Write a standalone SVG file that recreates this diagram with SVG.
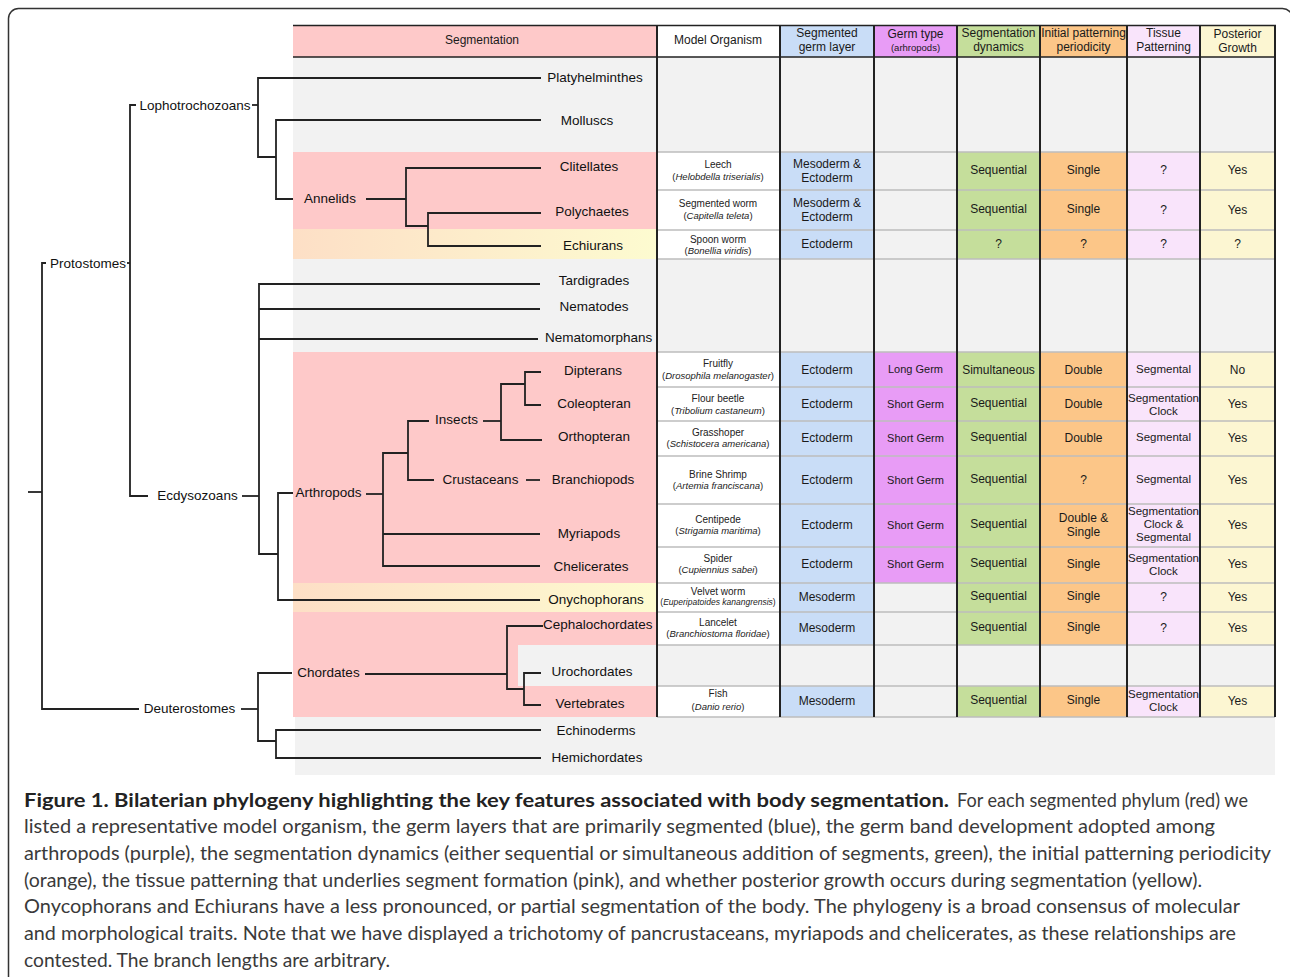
<svg xmlns="http://www.w3.org/2000/svg" width="1290" height="977" viewBox="0 0 1290 977">
<defs>
<linearGradient id="pe" x1="0" y1="0" x2="1" y2="0">
<stop offset="0" stop-color="#fddfc6"/>
<stop offset="1" stop-color="#fdfbd0"/>
</linearGradient>
<style>
.ln{fill:none;stroke:#222;stroke-width:1.8}
.lb{font-family:"Liberation Sans",Arial,sans-serif;font-size:13.5px;fill:#111;dominant-baseline:central}
.m{text-anchor:middle}
.ct{font-family:"Liberation Sans",Arial,sans-serif;font-size:12px;fill:#1a1a1a;text-anchor:middle;dominant-baseline:central}
.ts{font-size:11.5px}
.mo{font-family:"Liberation Sans",Arial,sans-serif;font-size:10px;fill:#222;text-anchor:middle;dominant-baseline:central}
.sp{font-size:9.5px}
.it{font-style:italic}
.hd{font-family:"Liberation Sans",Arial,sans-serif;font-size:12px;fill:#1a1a1a;text-anchor:middle;dominant-baseline:central}
.pk{fill:#fec9c9}.gr{fill:#f2f2f2}.wh{fill:#fff}.bl{fill:#c9ddf7}.pu{fill:#e89cf6}.gn{fill:#c5de9b}.or{fill:#fcc688}.lv{fill:#f9e4fb}.ye{fill:#fcf6d2}
.sep{stroke:#bdbdbd;stroke-width:1.5}
.vl{stroke:#222;stroke-width:2}
.cap{font-family:Lato,"Open Sans",sans-serif;font-size:19px;fill:#3a3a3a}
.capb{font-family:Lato,"Open Sans",sans-serif;font-size:19px;font-weight:bold;fill:#222}
</style>
</defs>
<rect x="0" y="0" width="1290" height="977" fill="#fff"/>
<rect x="8.5" y="8.5" width="1284" height="1000" rx="10" fill="none" stroke="#333" stroke-width="1.5"/>

<!-- backgrounds -->
<g id="backgrounds">
<rect class="gr" x="293" y="57" width="982" height="660"/>
<rect class="gr" x="295" y="717" width="980" height="58"/>
<rect class="pk" x="293" y="152" width="364" height="77"/>
<rect fill="url(#pe)" x="293" y="229" width="364" height="30"/>
<rect class="pk" x="293" y="352" width="364" height="231"/>
<rect fill="url(#pe)" x="293" y="583" width="364" height="29"/>
<rect class="pk" x="293" y="612" width="364" height="105"/>
<rect class="gr" x="518" y="645" width="139" height="41"/>
</g>

<!-- header -->
<g id="header">
<rect class="pk" x="293" y="25" width="364" height="32"/>
<rect class="wh" x="657" y="25" width="123" height="32"/>
<rect class="bl" x="780" y="25" width="94" height="32"/>
<rect class="pu" x="874" y="25" width="83" height="32"/>
<rect class="gn" x="957" y="25" width="83" height="32"/>
<rect class="or" x="1040" y="25" width="87" height="32"/>
<rect class="lv" x="1127" y="25" width="73" height="32"/>
<rect class="ye" x="1200" y="25" width="75" height="32"/>
<text class="hd" x="482" y="40">Segmentation</text>
<text class="hd" x="718" y="40">Model Organism</text>
<text class="hd" x="827" y="33">Segmented</text><text class="hd" x="827" y="47">germ layer</text>
<text class="hd" x="915.5" y="34">Germ type</text><text class="hd" x="915.5" y="47" style="font-size:9.5px">(arhropods)</text>
<text class="hd" x="998.5" y="33">Segmentation</text><text class="hd" x="998.5" y="47">dynamics</text>
<text class="hd" x="1083.5" y="33">Initial patterning</text><text class="hd" x="1083.5" y="47">periodicity</text>
<text class="hd" x="1163.5" y="33">Tissue</text><text class="hd" x="1163.5" y="47">Patterning</text>
<text class="hd" x="1237.5" y="34">Posterior</text><text class="hd" x="1237.5" y="48">Growth</text>
</g>

<!-- table rows -->
<g id="row-leech">
<rect class="wh" x="657" y="152" width="123" height="38"/><rect class="bl" x="780" y="152" width="94" height="38"/><rect class="gr" x="874" y="152" width="83" height="38"/><rect class="gn" x="957" y="152" width="83" height="38"/><rect class="or" x="1040" y="152" width="87" height="38"/><rect class="lv" x="1127" y="152" width="73" height="38"/><rect class="ye" x="1200" y="152" width="75" height="38"/>
<text class="mo" x="718" y="164">Leech</text><text class="mo sp" x="718" y="176">(<tspan class="it">Helobdella triserialis</tspan>)</text>
<text class="ct" x="827" y="164">Mesoderm &amp;</text><text class="ct" x="827" y="178">Ectoderm</text>
<text class="ct" x="998.5" y="170">Sequential</text><text class="ct" x="1083.5" y="170">Single</text><text class="ct" x="1163.5" y="170">?</text><text class="ct" x="1237.5" y="170">Yes</text>
</g>
<g id="row-segworm">
<rect class="wh" x="657" y="190" width="123" height="40"/><rect class="bl" x="780" y="190" width="94" height="40"/><rect class="gr" x="874" y="190" width="83" height="40"/><rect class="gn" x="957" y="190" width="83" height="40"/><rect class="or" x="1040" y="190" width="87" height="40"/><rect class="lv" x="1127" y="190" width="73" height="40"/><rect class="ye" x="1200" y="190" width="75" height="40"/>
<text class="mo" x="718" y="203">Segmented worm</text><text class="mo sp" x="718" y="215">(<tspan class="it">Capitella teleta</tspan>)</text>
<text class="ct" x="827" y="203">Mesoderm &amp;</text><text class="ct" x="827" y="217">Ectoderm</text>
<text class="ct" x="998.5" y="209">Sequential</text><text class="ct" x="1083.5" y="209">Single</text><text class="ct" x="1163.5" y="210">?</text><text class="ct" x="1237.5" y="210">Yes</text>
</g>
<g id="row-spoonworm">
<rect class="wh" x="657" y="230" width="123" height="29"/><rect class="bl" x="780" y="230" width="94" height="29"/><rect class="gr" x="874" y="230" width="83" height="29"/><rect class="gn" x="957" y="230" width="83" height="29"/><rect class="or" x="1040" y="230" width="87" height="29"/><rect class="lv" x="1127" y="230" width="73" height="29"/><rect class="ye" x="1200" y="230" width="75" height="29"/>
<text class="mo" x="718" y="239">Spoon worm</text><text class="mo sp" x="718" y="250">(<tspan class="it">Bonellia viridis</tspan>)</text>
<text class="ct" x="827" y="244">Ectoderm</text>
<text class="ct" x="998.5" y="244">?</text><text class="ct" x="1083.5" y="244">?</text><text class="ct" x="1163.5" y="244">?</text><text class="ct" x="1237.5" y="244">?</text>
</g>
<g id="row-fruitfly">
<rect class="wh" x="657" y="352" width="123" height="35"/><rect class="bl" x="780" y="352" width="94" height="35"/><rect class="pu" x="874" y="352" width="83" height="35"/><rect class="gn" x="957" y="352" width="83" height="35"/><rect class="or" x="1040" y="352" width="87" height="35"/><rect class="lv" x="1127" y="352" width="73" height="35"/><rect class="ye" x="1200" y="352" width="75" height="35"/>
<text class="mo" x="718" y="363">Fruitfly</text><text class="mo sp" x="718" y="375">(<tspan class="it">Drosophila melanogaster</tspan>)</text>
<text class="ct" x="827" y="370">Ectoderm</text><text class="ct" x="915.5" y="369" style="font-size:11px">Long Germ</text>
<text class="ct" x="998.5" y="370">Simultaneous</text><text class="ct" x="1083.5" y="370">Double</text><text class="ct ts" x="1163.5" y="369">Segmental</text><text class="ct" x="1237.5" y="370">No</text>
</g>
<g id="row-flourbeetle">
<rect class="wh" x="657" y="387" width="123" height="34"/><rect class="bl" x="780" y="387" width="94" height="34"/><rect class="pu" x="874" y="387" width="83" height="34"/><rect class="gn" x="957" y="387" width="83" height="34"/><rect class="or" x="1040" y="387" width="87" height="34"/><rect class="lv" x="1127" y="387" width="73" height="34"/><rect class="ye" x="1200" y="387" width="75" height="34"/>
<text class="mo" x="718" y="398">Flour beetle</text><text class="mo sp" x="718" y="410">(<tspan class="it">Tribolium castaneum</tspan>)</text>
<text class="ct" x="827" y="404">Ectoderm</text><text class="ct" x="915.5" y="404" style="font-size:11px">Short Germ</text>
<text class="ct" x="998.5" y="403">Sequential</text><text class="ct" x="1083.5" y="404">Double</text><text class="ct ts" x="1163.5" y="398">Segmentation</text><text class="ct ts" x="1163.5" y="411">Clock</text><text class="ct" x="1237.5" y="404">Yes</text>
</g>
<g id="row-grasshoper">
<rect class="wh" x="657" y="421" width="123" height="35"/><rect class="bl" x="780" y="421" width="94" height="35"/><rect class="pu" x="874" y="421" width="83" height="35"/><rect class="gn" x="957" y="421" width="83" height="35"/><rect class="or" x="1040" y="421" width="87" height="35"/><rect class="lv" x="1127" y="421" width="73" height="35"/><rect class="ye" x="1200" y="421" width="75" height="35"/>
<text class="mo" x="718" y="432">Grasshoper</text><text class="mo sp" x="718" y="443">(<tspan class="it">Schistocera americana</tspan>)</text>
<text class="ct" x="827" y="438">Ectoderm</text><text class="ct" x="915.5" y="438" style="font-size:11px">Short Germ</text>
<text class="ct" x="998.5" y="437">Sequential</text><text class="ct" x="1083.5" y="438">Double</text><text class="ct ts" x="1163.5" y="437">Segmental</text><text class="ct" x="1237.5" y="438">Yes</text>
</g>
<g id="row-brineshrimp">
<rect class="wh" x="657" y="456" width="123" height="48"/><rect class="bl" x="780" y="456" width="94" height="48"/><rect class="pu" x="874" y="456" width="83" height="48"/><rect class="gn" x="957" y="456" width="83" height="48"/><rect class="or" x="1040" y="456" width="87" height="48"/><rect class="lv" x="1127" y="456" width="73" height="48"/><rect class="ye" x="1200" y="456" width="75" height="48"/>
<text class="mo" x="718" y="474">Brine Shrimp</text><text class="mo sp" x="718" y="485">(<tspan class="it">Artemia franciscana</tspan>)</text>
<text class="ct" x="827" y="480">Ectoderm</text><text class="ct" x="915.5" y="480" style="font-size:11px">Short Germ</text>
<text class="ct" x="998.5" y="479">Sequential</text><text class="ct" x="1083.5" y="480">?</text><text class="ct ts" x="1163.5" y="479">Segmental</text><text class="ct" x="1237.5" y="480">Yes</text>
</g>
<g id="row-centipede">
<rect class="wh" x="657" y="504" width="123" height="43"/><rect class="bl" x="780" y="504" width="94" height="43"/><rect class="pu" x="874" y="504" width="83" height="43"/><rect class="gn" x="957" y="504" width="83" height="43"/><rect class="or" x="1040" y="504" width="87" height="43"/><rect class="lv" x="1127" y="504" width="73" height="43"/><rect class="ye" x="1200" y="504" width="75" height="43"/>
<text class="mo" x="718" y="519">Centipede</text><text class="mo sp" x="718" y="530">(<tspan class="it">Strigamia maritima</tspan>)</text>
<text class="ct" x="827" y="525">Ectoderm</text><text class="ct" x="915.5" y="525" style="font-size:11px">Short Germ</text>
<text class="ct" x="998.5" y="524">Sequential</text><text class="ct" x="1083.5" y="518">Double &amp;</text><text class="ct" x="1083.5" y="532">Single</text>
<text class="ct ts" x="1163.5" y="511">Segmentation</text><text class="ct ts" x="1163.5" y="524">Clock &amp;</text><text class="ct ts" x="1163.5" y="537">Segmental</text><text class="ct" x="1237.5" y="525">Yes</text>
</g>
<g id="row-spider">
<rect class="wh" x="657" y="547" width="123" height="36"/><rect class="bl" x="780" y="547" width="94" height="36"/><rect class="pu" x="874" y="547" width="83" height="36"/><rect class="gn" x="957" y="547" width="83" height="36"/><rect class="or" x="1040" y="547" width="87" height="36"/><rect class="lv" x="1127" y="547" width="73" height="36"/><rect class="ye" x="1200" y="547" width="75" height="36"/>
<text class="mo" x="718" y="558">Spider</text><text class="mo sp" x="718" y="569">(<tspan class="it">Cupiennius sabei</tspan>)</text>
<text class="ct" x="827" y="564">Ectoderm</text><text class="ct" x="915.5" y="564" style="font-size:11px">Short Germ</text>
<text class="ct" x="998.5" y="563">Sequential</text><text class="ct" x="1083.5" y="564">Single</text><text class="ct ts" x="1163.5" y="558">Segmentation</text><text class="ct ts" x="1163.5" y="571">Clock</text><text class="ct" x="1237.5" y="564">Yes</text>
</g>
<g id="row-velvetworm">
<rect class="wh" x="657" y="583" width="123" height="29"/><rect class="bl" x="780" y="583" width="94" height="29"/><rect class="gr" x="874" y="583" width="83" height="29"/><rect class="gn" x="957" y="583" width="83" height="29"/><rect class="or" x="1040" y="583" width="87" height="29"/><rect class="lv" x="1127" y="583" width="73" height="29"/><rect class="ye" x="1200" y="583" width="75" height="29"/>
<text class="mo" x="718" y="591">Velvet worm</text><text class="mo" x="718" y="602" style="font-size:8.5px">(<tspan class="it">Euperipatoides kanangrensis</tspan>)</text>
<text class="ct" x="827" y="597">Mesoderm</text>
<text class="ct" x="998.5" y="596">Sequential</text><text class="ct" x="1083.5" y="596">Single</text><text class="ct" x="1163.5" y="597">?</text><text class="ct" x="1237.5" y="597">Yes</text>
</g>
<g id="row-lancelet">
<rect class="wh" x="657" y="612" width="123" height="33"/><rect class="bl" x="780" y="612" width="94" height="33"/><rect class="gr" x="874" y="612" width="83" height="33"/><rect class="gn" x="957" y="612" width="83" height="33"/><rect class="or" x="1040" y="612" width="87" height="33"/><rect class="lv" x="1127" y="612" width="73" height="33"/><rect class="ye" x="1200" y="612" width="75" height="33"/>
<text class="mo" x="718" y="622">Lancelet</text><text class="mo sp" x="718" y="633">(<tspan class="it">Branchiostoma floridae</tspan>)</text>
<text class="ct" x="827" y="628">Mesoderm</text>
<text class="ct" x="998.5" y="627">Sequential</text><text class="ct" x="1083.5" y="627">Single</text><text class="ct" x="1163.5" y="628">?</text><text class="ct" x="1237.5" y="628">Yes</text>
</g>
<g id="row-fish">
<rect class="wh" x="657" y="686" width="123" height="31"/><rect class="bl" x="780" y="686" width="94" height="31"/><rect class="gr" x="874" y="686" width="83" height="31"/><rect class="gn" x="957" y="686" width="83" height="31"/><rect class="or" x="1040" y="686" width="87" height="31"/><rect class="lv" x="1127" y="686" width="73" height="31"/><rect class="ye" x="1200" y="686" width="75" height="31"/>
<text class="mo" x="718" y="693">Fish</text><text class="mo sp" x="718" y="706">(<tspan class="it">Danio rerio</tspan>)</text>
<text class="ct" x="827" y="701">Mesoderm</text>
<text class="ct" x="998.5" y="700">Sequential</text><text class="ct" x="1083.5" y="700">Single</text><text class="ct ts" x="1163.5" y="694">Segmentation</text><text class="ct ts" x="1163.5" y="707">Clock</text><text class="ct" x="1237.5" y="701">Yes</text>
</g>

<!-- grid lines -->
<g id="grid">
<path class="sep" d="M657,152H1275M657,190H1275M657,230H1275M657,259H1275M657,352H1275M657,387H1275M657,421H1275M657,456H1275M657,504H1275M657,547H1275M657,583H1275M657,612H1275M657,645H1275M657,686H1275M657,717H1275"/>
<path class="vl" d="M657,25V717M780,25V717M874,25V717M957,25V717M1040,25V717M1127,25V717M1200,25V717M1275,25V717"/>
<path stroke="#222" stroke-width="1.6" d="M293,25.5H1276M293,57H1276"/>
</g>

<!-- connectors -->
<g id="connectors">
<path class="ln" d="M28,492H42"/>
<path class="ln" d="M46,263H42V709H139"/>
<path class="ln" d="M127,263H130"/>
<path class="ln" d="M136,105H130V496H148"/>
<path class="ln" d="M252,105H258"/>
<path class="ln" d="M541,78H258V157H276"/>
<path class="ln" d="M541,120H276V199H293"/>
<path class="ln" d="M366,199H406"/>
<path class="ln" d="M541,168H406V226H428"/>
<path class="ln" d="M541,213H428V246H541"/>
<path class="ln" d="M242,496H259"/>
<path class="ln" d="M540,284H259V554H278"/>
<path class="ln" d="M259,309H540"/>
<path class="ln" d="M259,339H538"/>
<path class="ln" d="M293,493H278V600H540"/>
<path class="ln" d="M366,494H383"/>
<path class="ln" d="M408,453H383V566H540"/>
<path class="ln" d="M383,534H540"/>
<path class="ln" d="M429,421H408V480H434"/>
<path class="ln" d="M526,480H540"/>
<path class="ln" d="M483,421H501"/>
<path class="ln" d="M525,384H501V440H542"/>
<path class="ln" d="M541,372H525V405H541"/>
<path class="ln" d="M241,709H258"/>
<path class="ln" d="M292,673H258V741H276"/>
<path class="ln" d="M541,730H276V758H541"/>
<path class="ln" d="M365,674H507"/>
<path class="ln" d="M543,626H507V689H524"/>
<path class="ln" d="M541,673H524V705H541"/>
</g>

<!-- tree nodes -->
<g id="n-protostomes"><text class="lb m" x="88" y="263">Protostomes</text></g>
<g id="n-lophotrochozoans"><text class="lb m" x="195" y="105">Lophotrochozoans</text></g>
<g id="n-ecdysozoans"><text class="lb m" x="197.5" y="495">Ecdysozoans</text></g>
<g id="n-deuterostomes"><text class="lb m" x="189.5" y="708">Deuterostomes</text></g>
<g id="n-annelids"><text class="lb m" x="330" y="198">Annelids</text></g>
<g id="n-arthropods"><text class="lb m" x="328.5" y="492">Arthropods</text></g>
<g id="n-insects"><text class="lb m" x="456.5" y="419">Insects</text></g>
<g id="n-crustaceans"><text class="lb m" x="480.5" y="479">Crustaceans</text></g>
<g id="n-chordates"><text class="lb m" x="328.5" y="672">Chordates</text></g>
<g id="n-platyhelminthes"><text class="lb m" x="595" y="77">Platyhelminthes</text></g>
<g id="n-molluscs"><text class="lb m" x="587" y="120">Molluscs</text></g>
<g id="n-clitellates"><text class="lb m" x="589" y="166">Clitellates</text></g>
<g id="n-polychaetes"><text class="lb m" x="592" y="211">Polychaetes</text></g>
<g id="n-echiurans"><text class="lb m" x="593" y="245">Echiurans</text></g>
<g id="n-tardigrades"><text class="lb m" x="594" y="280">Tardigrades</text></g>
<g id="n-nematodes"><text class="lb m" x="594" y="306">Nematodes</text></g>
<g id="n-nematomorphans"><text class="lb" x="545" y="337">Nematomorphans</text></g>
<g id="n-dipterans"><text class="lb m" x="593" y="370">Dipterans</text></g>
<g id="n-coleopteran"><text class="lb m" x="594" y="403">Coleopteran</text></g>
<g id="n-orthopteran"><text class="lb m" x="594" y="436">Orthopteran</text></g>
<g id="n-branchiopods"><text class="lb m" x="593" y="479">Branchiopods</text></g>
<g id="n-myriapods"><text class="lb m" x="589" y="533">Myriapods</text></g>
<g id="n-chelicerates"><text class="lb m" x="591" y="566">Chelicerates</text></g>
<g id="n-onychophorans"><text class="lb m" x="596" y="599">Onychophorans</text></g>
<g id="n-cephalochordates"><text class="lb" x="543" y="624">Cephalochordates</text></g>
<g id="n-urochordates"><text class="lb m" x="592" y="671">Urochordates</text></g>
<g id="n-vertebrates"><text class="lb m" x="590" y="703">Vertebrates</text></g>
<g id="n-echinoderms"><text class="lb m" x="596" y="730">Echinoderms</text></g>
<g id="n-hemichordates"><text class="lb m" x="597" y="757">Hemichordates</text></g>

<!-- caption -->
<g id="caption">
<text class="capb" x="24" y="807" textLength="925" lengthAdjust="spacingAndGlyphs">Figure 1. Bilaterian phylogeny highlighting the key features associated with body segmentation.</text>
<text class="cap" x="957" y="807" textLength="291" lengthAdjust="spacingAndGlyphs">For each segmented phylum (red) we</text>
<text class="cap" x="24" y="833" textLength="1191" lengthAdjust="spacingAndGlyphs">listed a representative model organism, the germ layers that are primarily segmented (blue), the germ band development adopted among</text>
<text class="cap" x="24" y="860" textLength="1247" lengthAdjust="spacingAndGlyphs">arthropods (purple), the segmentation dynamics (either sequential or simultaneous addition of segments, green), the initial patterning periodicity</text>
<text class="cap" x="24" y="887" textLength="1178" lengthAdjust="spacingAndGlyphs">(orange), the tissue patterning that underlies segment formation (pink), and whether posterior growth occurs during segmentation (yellow).</text>
<text class="cap" x="24" y="913" textLength="1216" lengthAdjust="spacingAndGlyphs">Onycophorans and Echiurans have a less pronounced, or partial segmentation of the body. The phylogeny is a broad consensus of molecular</text>
<text class="cap" x="24" y="940" textLength="1212" lengthAdjust="spacingAndGlyphs">and morphological traits. Note that we have displayed a trichotomy of pancrustaceans, myriapods and chelicerates, as these relationships are</text>
<text class="cap" x="24" y="967" textLength="366" lengthAdjust="spacingAndGlyphs">contested. The branch lengths are arbitrary.</text>
</g>
</svg>
